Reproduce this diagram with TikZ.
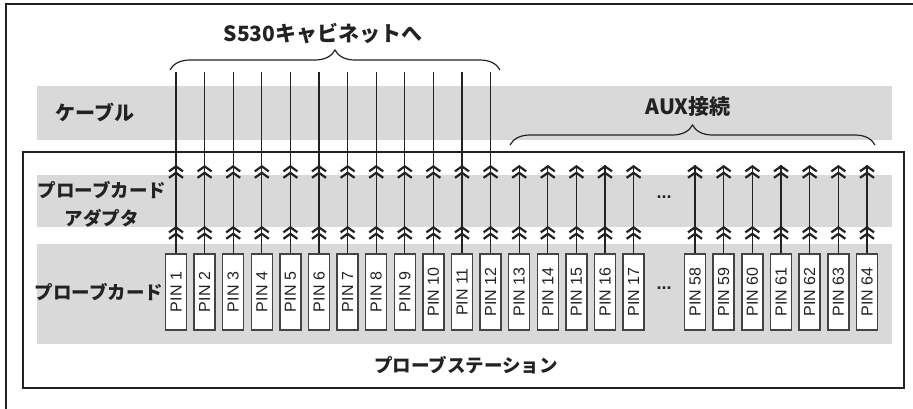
\documentclass[tikz,border=0pt]{standalone}
\usepackage{fontspec}
\setmainfont{Liberation Sans}
\newfontfamily\jp{Noto Sans CJK JP}
\usetikzlibrary{arrows.meta,decorations.pathreplacing}
\definecolor{bandgray}{HTML}{D9D9D9}
\definecolor{ink}{HTML}{222222}
\definecolor{edge}{HTML}{444444}
\tikzset{
  dblhead/.tip={Straight Barb[length=5pt,width=14pt,line width=2.2pt,sep=-1pt]Straight Barb[length=5pt,width=14pt,line width=2.2pt]},
  bandfill/.style={fill=bandgray,draw=none},
  pinbox/.style={draw=edge,line width=1.4pt,fill=white,minimum width=21pt,minimum height=76pt,inner sep=0pt,text=ink,font=\fontsize{16}{16}\selectfont},
  conn/.style={draw=ink,line width=1.3pt},
  bracestyle/.style={draw=ink,line width=1.2pt,decorate,decoration={brace,amplitude=20pt}},
  jplabel/.style={text=ink,inner sep=0pt,font=\jp\bfseries\fontsize{#1}{#1}\selectfont},
  dots/.style={text=ink,font=\bfseries\fontsize{18}{18}\selectfont},
}
\begin{document}
\begin{tikzpicture}[x=1pt,y=-1pt]
\clip (0,0) rectangle (913,408);
\fill[white] (0,0) rectangle (913,408);
% outer frame (cropped)
\draw[draw=ink,line width=2pt] (6,420) -- (6,4) -- (930,4);
% bands
\fill[bandfill] (37,86) rectangle (892,140);
% probe station box
\draw[draw=ink,line width=1.5pt,fill=white] (23,152) rectangle (904,388);
\fill[bandfill] (37,175) rectangle (892,227);
\fill[bandfill] (37,244) rectangle (892,344);
% braces
\draw[bracestyle] (170,70) -- (500,70);
\draw[bracestyle] (510,145) -- (875,145);
% pins 1-17
\foreach \i in {1,...,17} {
  \pgfmathsetmacro\xx{176+(\i-1)*28.6}
  \node[pinbox] (p\i) at (\xx,292) {\rotatebox{90}{PIN \i}};
  \coordinate (b\i) at (\xx,226);
  \coordinate (a\i) at (\xx,165);
  \draw[conn] (p\i.north) -- (a\i);
  \draw[conn,-dblhead] (p\i.north) -- (b\i);
  \draw[conn,-dblhead] (b\i) -- (a\i);
}
\foreach \i in {1,...,12} {
  \pgfmathsetmacro\xx{176+(\i-1)*28.6}
  \coordinate (t\i) at (\xx,72);
  \draw[conn] (a\i) -- (t\i);
}
% pins 58-64
\foreach \i in {58,...,64} {
  \pgfmathsetmacro\xx{695+(\i-58)*28.67}
  \node[pinbox] (p\i) at (\xx,292) {\rotatebox{90}{PIN \i}};
  \coordinate (b\i) at (\xx,226);
  \coordinate (a\i) at (\xx,165);
  \draw[conn] (p\i.north) -- (a\i);
  \draw[conn,-dblhead] (p\i.north) -- (b\i);
  \draw[conn,-dblhead] (b\i) -- (a\i);
}
% labels
\node[jplabel=21] (s530) at (323,33) {S530キャビネットへ};
\node[jplabel=21] (aux) at (688,107) {AUX接続};
\node[jplabel=20,anchor=west] (cable) at (55,112) {ケーブル};
\node[jplabel=18.5,align=center,font=\jp\bfseries\fontsize{18.5}{28}\selectfont] (adapter) at (102,204) {プローブカード\\アダプタ};
\node[jplabel=18.5] (card) at (99,292) {プローブカード};
\node[jplabel=18.5] (station) at (466,365) {プローブステーション};
\node[dots] (dots1) at (664,197) {...};
\node[dots] (dots2) at (664,288) {...};
\end{tikzpicture}
\end{document}
